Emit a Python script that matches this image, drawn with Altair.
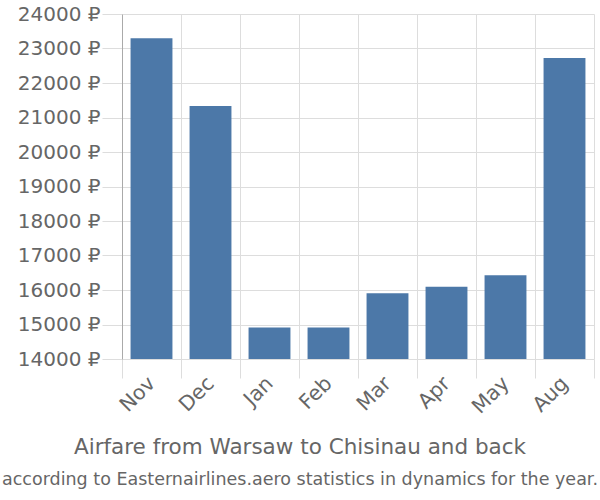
import altair as alt
import pandas as pd

months = ["Nov", "Dec", "Jan", "Feb", "Mar", "Apr", "May", "Aug"]
prices = [23300, 21330, 14910, 14910, 15905, 16095, 16430, 22725]
y_ticks = [14000, 15000, 16000, 17000, 18000, 19000, 20000, 21000, 22000, 23000, 24000]

df = pd.DataFrame({"month": months, "price": prices})

FONT = "DejaVu Sans"

chart = alt.Chart(df).mark_bar(
    color="#4C78A8", width=alt.RelativeBandSize(0.71), clip=True
).encode(
    x=alt.X("month:N", sort=months, title=None,
            scale=alt.Scale(paddingInner=0, paddingOuter=0),
            axis=alt.Axis(labelAngle=315, tickBand="extent", tickSize=19,
                          tickColor="#dddddd", gridColor="#dddddd", grid=True,
                          domain=False, labelFontSize=20.5, labelColor="#666666",
                          labelFont=FONT, labelPadding=2, labelBaseline="middle",
                          labelAlign="right")),
    y=alt.Y("price:Q", title=None,
            scale=alt.Scale(domain=[14000, 24000], zero=False, nice=False),
            axis=alt.Axis(values=y_ticks, labelExpr="format(datum.value, 'd') + ' ₽'",
                          tickSize=20, tickColor="#dddddd", gridColor="#dddddd",
                          domainColor="#aaaaaa", labelFontSize=20, labelColor="#666666",
                          labelFont=FONT, labelPadding=2)),
).properties(
    width=472, height=345,
    title=alt.TitleParams(
        text="Airfare from Warsaw to Chisinau and back",
        subtitle="according to Easternairlines.aero statistics in dynamics for the year.",
        orient="bottom", anchor="middle", font=FONT, fontSize=21.5,
        fontWeight="normal", color="#666666", subtitleFont=FONT,
        subtitleFontSize=17.5, subtitleColor="#666666", offset=20, subtitlePadding=12,
        dx=-58,
    ),
    autosize=alt.AutoSizeParams(type="none"),
    padding={"left": 122, "top": 14, "right": 6, "bottom": 141},
).configure_view(stroke=None)

chart.save("out.html", embed_options={"renderer": "svg", "actions": False})
